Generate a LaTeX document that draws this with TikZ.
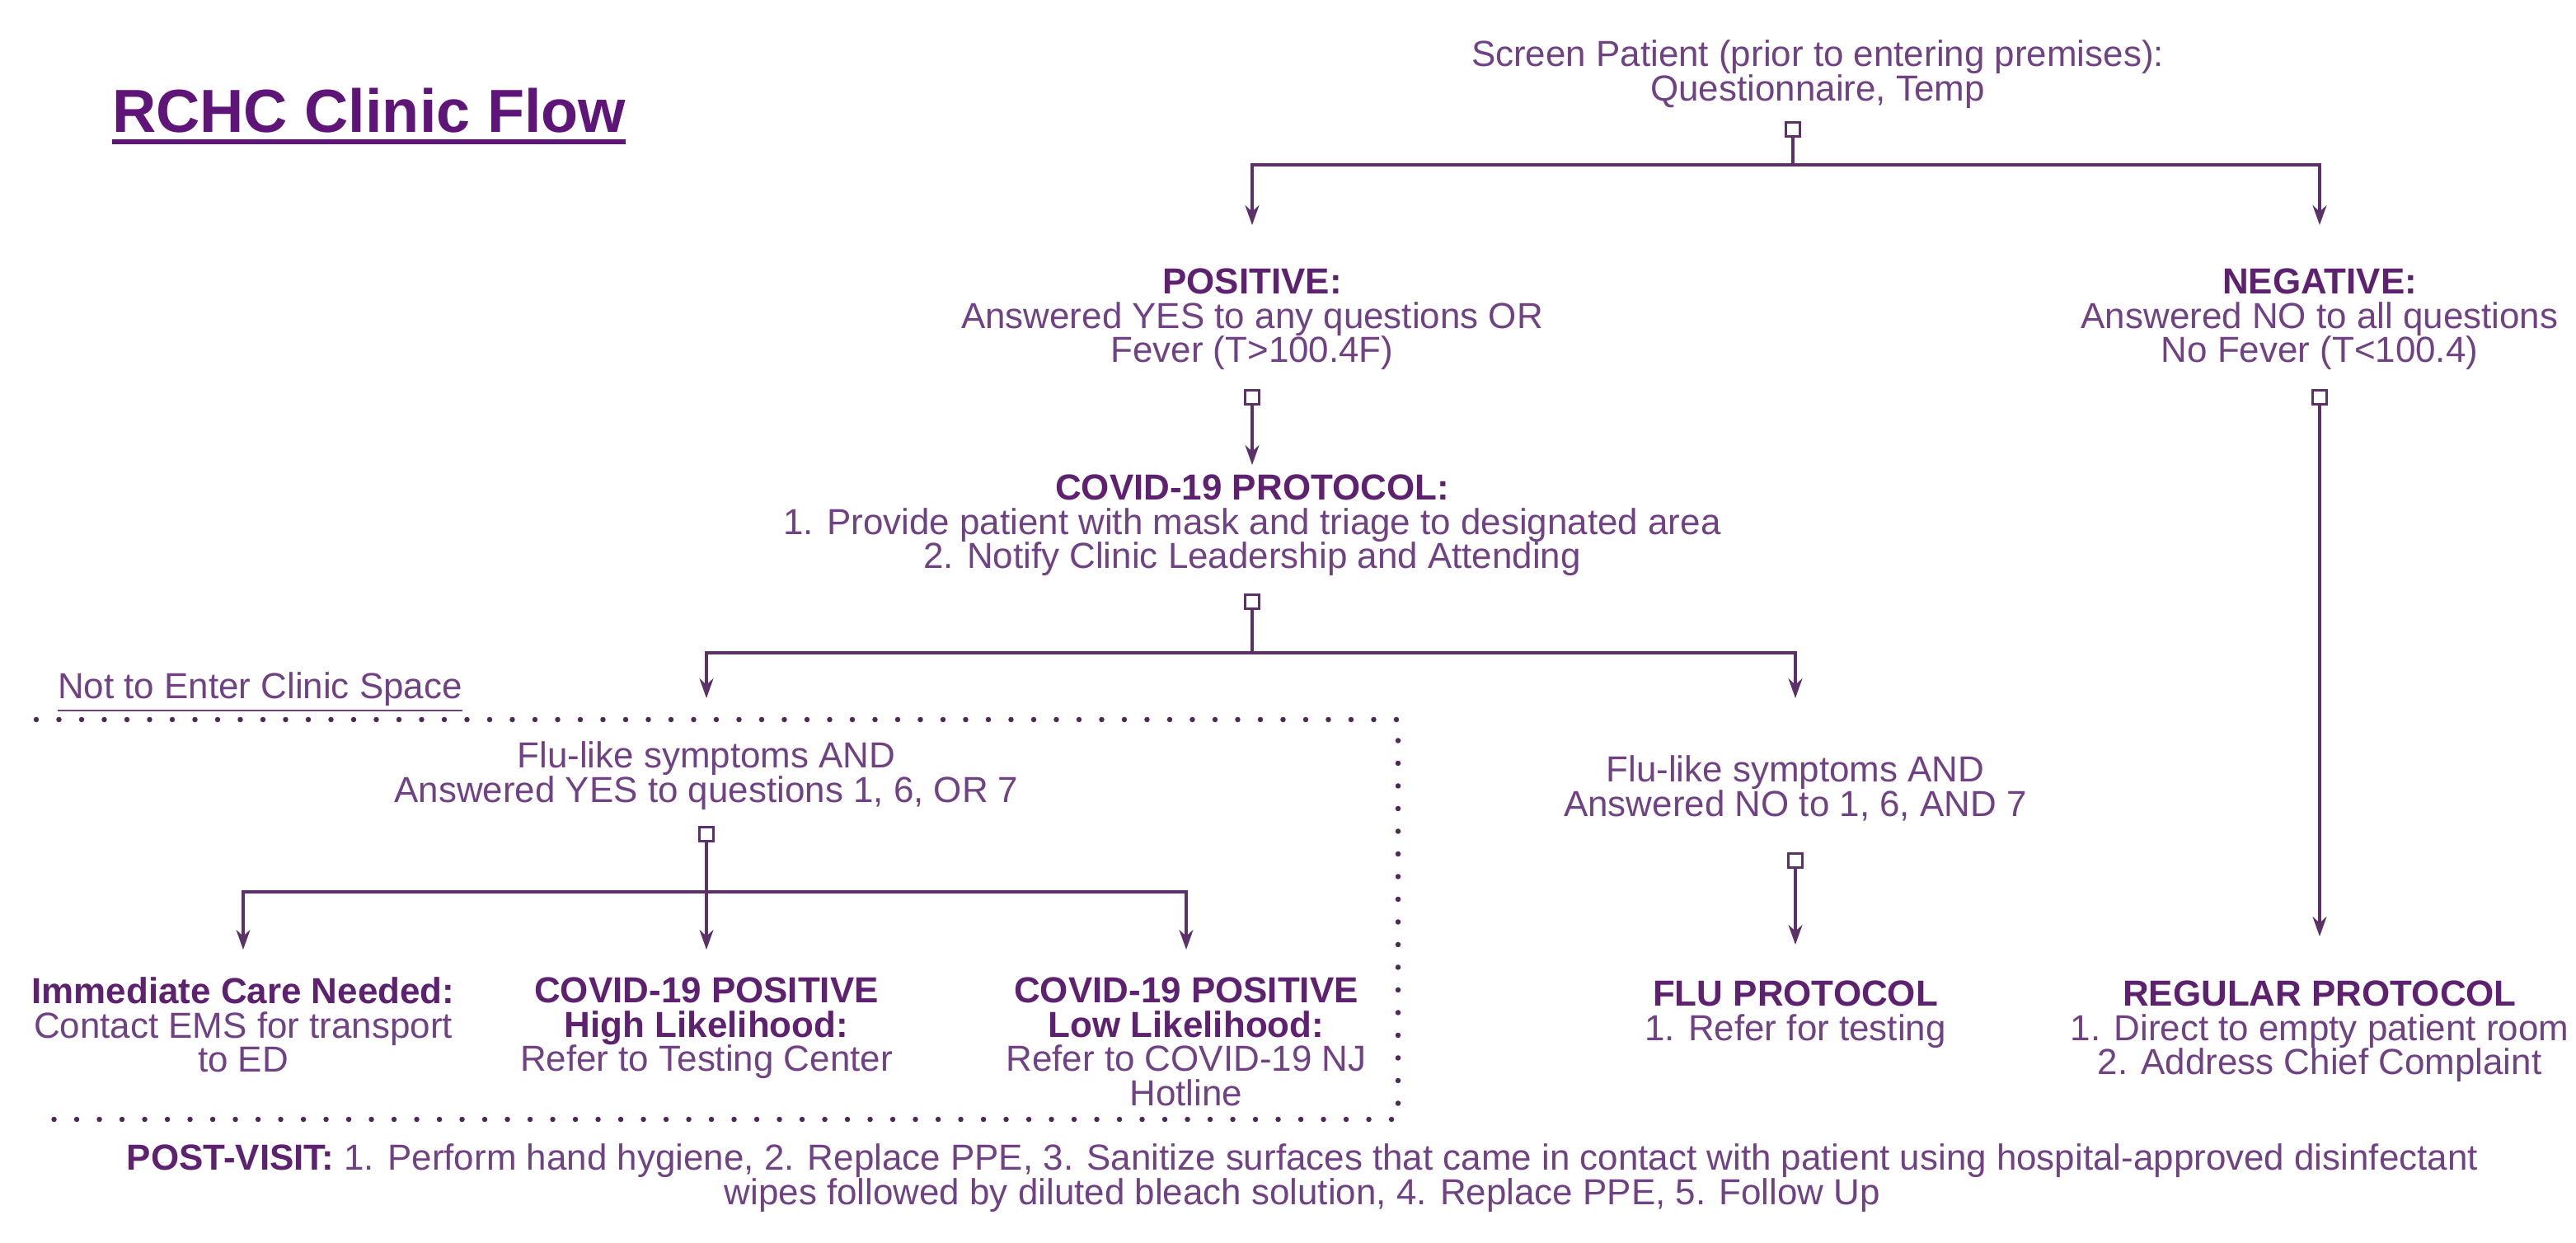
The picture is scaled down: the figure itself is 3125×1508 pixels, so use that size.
\documentclass[tikz,border=0pt]{standalone}
\usepackage{fontspec}
\setmainfont{Liberation Sans}
\usetikzlibrary{arrows.meta}
\definecolor{txt}{HTML}{704284}
\definecolor{bld}{HTML}{5E2170}
\definecolor{ln}{HTML}{5C3068}
\definecolor{ttl}{HTML}{5E1577}
\begin{document}
\begin{tikzpicture}[x=0.1mm,y=-0.1mm,
  every node/.style={inner sep=0pt, outer sep=0pt},
  lbl/.style={align=center, text=txt, font=\fontsize{12.5}{11.8}\selectfont},
  sq/.style={draw=ln, line width=0.8pt, minimum size=1.7mm, inner sep=0pt, fill=white},
  conn/.style={draw=ln, line width=0.9pt},
  arr/.style={conn, -{Stealth[length=2.4mm,width=1.7mm]}},
  dotline/.style={draw=ln!85!black, line width=0.65mm, line cap=round, dash pattern=on 0pt off 2.75mm},
]
\useasboundingbox (0,0) rectangle (3125,1508);
\newcommand{\hd}[1]{{\color{bld}\bfseries #1}}

% title
\node[anchor=base west, text=ttl, font=\fontsize{21}{24}\selectfont\bfseries] (title) at (136,160) {RCHC Clinic Flow};
\draw[ttl, line width=1.5pt] ([yshift=-3.4pt]title.base west) -- ([yshift=-3.4pt]title.base east);

% nodes
\node[lbl, anchor=north] (screen) at (2205,49) {Screen Patient (prior to entering premises):\\Questionnaire, Temp};
\node[sq] (sq1) at (2175,157) {};
\coordinate (j1) at (2175,200);

\node[lbl, anchor=north] (pos) at (1519,326) {\hd{POSITIVE:}\\Answered YES to any questions OR\\Fever (T>100.4F)};
\node[lbl, anchor=north] (neg) at (2814,326) {\hd{NEGATIVE:}\\Answered NO to all questions\\No Fever (T<100.4)};
\node[sq] (sq2) at (1519,482) {};
\node[sq] (sq3) at (2814,482) {};

\node[lbl, anchor=north] (covid) at (1519,576) {\hd{COVID-19 PROTOCOL:}\\1. Provide patient with mask and triage to designated area\\2. Notify Clinic Leadership and Attending};
\node[sq] (sq4) at (1519,730) {};
\coordinate (j2) at (1519,792);

\node[lbl, anchor=west] (notenter) at (70,840) {\underline{Not to Enter Clinic Space}};

\node[lbl, anchor=north] (flu1) at (857,900) {Flu-like symptoms AND\\Answered YES to questions 1, 6, OR 7};
\node[lbl, anchor=north] (flu2) at (2178,917) {Flu-like symptoms AND\\Answered NO to 1, 6, AND 7};
\node[sq] (sq5) at (857,1012) {};
\node[sq] (sq6) at (2178,1044) {};
\coordinate (j3) at (857,1082);

\node[lbl, anchor=north] (imm) at (295,1186) {\hd{Immediate Care Needed:}\\Contact EMS for transport\\to ED};
\node[lbl, anchor=north] (high) at (857,1186) {\hd{COVID-19 POSITIVE}\\\hd{High Likelihood:}\\Refer to Testing Center};
\node[lbl, anchor=north] (low) at (1439,1186) {\hd{COVID-19 POSITIVE}\\\hd{Low Likelihood:}\\Refer to COVID-19 NJ\\Hotline};
\node[lbl, anchor=north] (flup) at (2178,1190) {\hd{FLU PROTOCOL}\\1. Refer for testing};
\node[lbl, anchor=north] (reg) at (2814,1190) {\hd{REGULAR PROTOCOL}\\1. Direct to empty patient room\\2. Address Chief Complaint};

\node[lbl, anchor=north] (post) at (1580,1388) {\hd{POST-VISIT:} 1. Perform hand hygiene, 2. Replace PPE, 3. Sanitize surfaces that came in contact with patient using hospital-approved disinfectant\\wipes followed by diluted bleach solution, 4. Replace PPE, 5. Follow Up};

% connectors
\draw[conn] (sq1) -- (j1);
\draw[arr, shorten >=5.3mm] (j1) -| (pos.north);
\draw[arr, shorten >=5.3mm] (j1) -| (neg.north);
\draw[arr, shorten >=1.2mm] (sq2) -- (covid.north);
\draw[arr, shorten >=5.4mm] (sq3) -- (reg.north);
\draw[conn] (sq4) -- (j2);
\draw[arr, shorten >=5.3mm] (j2) -| (flu1.north);
\draw[arr, shorten >=7mm] (j2) -| (flu2.north);
\draw[conn] (sq5) -- (j3);
\draw[arr, shorten >=3.4mm] (j3) -| (imm.north);
\draw[arr, shorten >=3.4mm] (j3) -- (high.north);
\draw[arr, shorten >=3.4mm] (j3) -| (low.north);
\draw[arr, shorten >=4.4mm] (sq6) -- (flup.north);

% dotted boundary
\draw[dotline] (44,873) -- (1696,873) -- (1696,1358) -- (44,1358);
\end{tikzpicture}
\end{document}
